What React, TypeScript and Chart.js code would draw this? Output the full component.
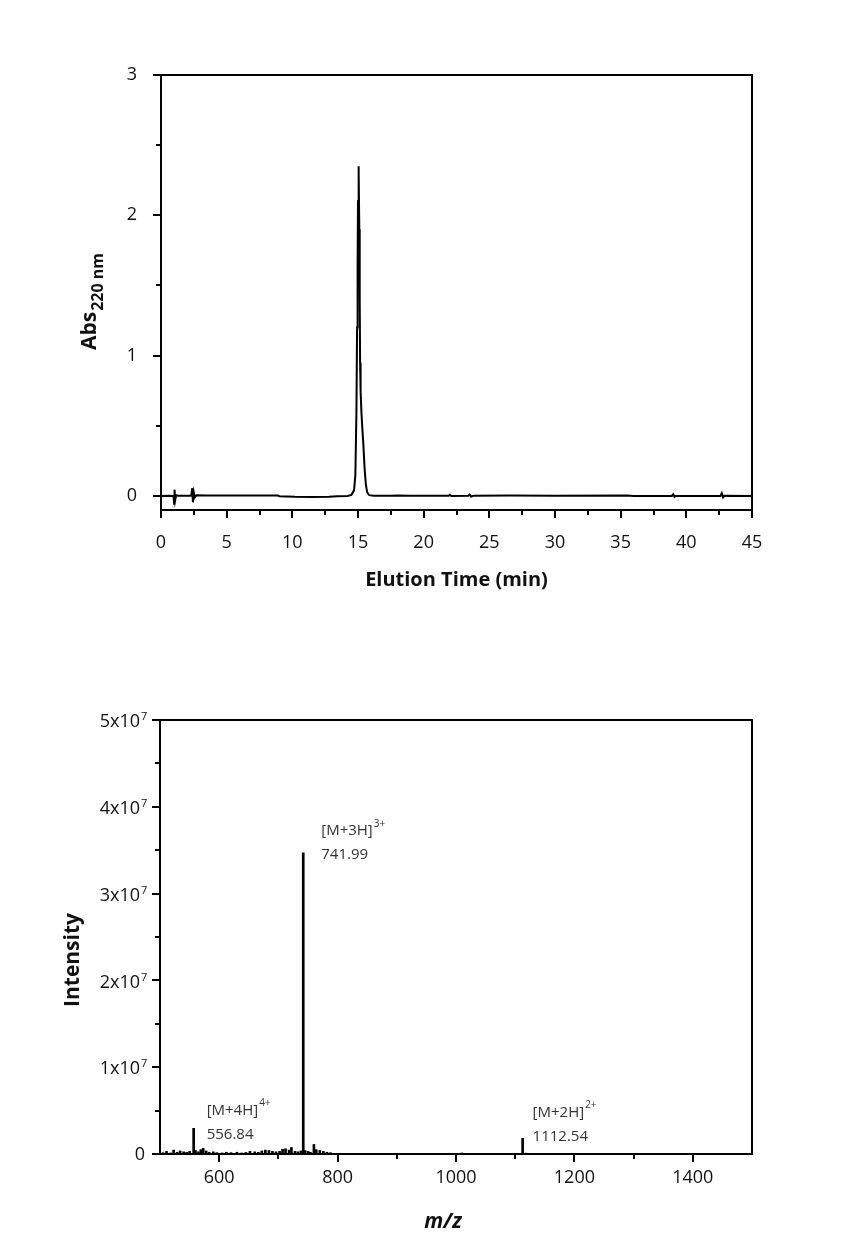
import React, { useEffect, useRef } from "react";
import { Chart, registerables } from "chart.js";

Chart.register(...registerables);

const FONT = '"Open Sans", "DejaVu Sans", sans-serif';
const INK = "#111";

// HPLC trace: elution time (min) and absorbance at 220 nm
const elutionTime = [
  0, 0.6, 0.95, 1.0, 1.03, 1.08, 1.15, 1.3, 2.3, 2.38, 2.43, 2.5, 2.58, 2.7, 3.5, 5.0, 7.0, 8.9, 9.0,
  10.2, 11.5, 12.8, 13.4, 14.2, 14.5, 14.7, 14.8, 14.88, 14.93, 14.97, 15.0, 15.03, 15.07, 15.1, 15.13,
  15.16, 15.2, 15.26, 15.33, 15.4, 15.5, 15.6, 15.7, 15.85, 16.2, 17.5, 18.0, 19.0, 21.9, 22.0, 22.1,
  23.4, 23.5, 23.6, 23.8, 26.5, 30.0, 35.5, 36.0, 38.9, 39.0, 39.1, 39.2, 42.6, 42.7, 42.8, 42.9, 45.0,
];
const absorbance = [
  0, 0.002, 0.0, -0.055, 0.045, -0.03, 0.005, 0.002, 0.003, 0.055, -0.045, 0.025, -0.01, 0.005, 0.004,
  0.003, 0.003, 0.003, -0.002, -0.006, -0.007, -0.006, -0.002, 0.0, 0.008, 0.04, 0.15, 0.6, 1.2, 1.64,
  2.1, 2.35, 2.3, 1.9, 1.4, 0.95, 0.74, 0.6, 0.48, 0.38, 0.2, 0.08, 0.025, 0.006, 0.002, 0.002, 0.004,
  0.002, 0.001, 0.008, 0.0, 0.002, 0.01, -0.004, 0.001, 0.003, 0.002, 0.003, 0.0, 0.0, 0.012, -0.006,
  0.0, 0.0, 0.02, -0.01, 0.002, 0.0,
];

const timeTicks = [0, 5, 10, 15, 20, 25, 30, 35, 40, 45];
const timeMinorTicks = [2.5, 7.5, 12.5, 17.5, 22.5, 27.5, 32.5, 37.5, 42.5];
const absTicks = [0, 1, 2, 3];
const absMinorTicks = [0.5, 1.5, 2.5];

// ESI-MS spectrum: m/z and intensity of each centroid
const mzValues = [
  505, 511, 518, 523, 529, 534, 540, 545, 550, 556.84, 560, 565, 569, 573, 578, 583, 590, 596, 605, 612,
  620, 630, 638, 645, 652, 660, 666, 672, 678, 684, 690, 696, 702, 707, 712, 718, 722, 728, 733, 738,
  741.99, 745, 750, 754, 760, 764, 770, 776, 782, 788, 800, 1010, 1112.54, 1118,
];
const intensities = [
  0.15e6, 0.3e6, 0.12e6, 0.45e6, 0.2e6, 0.35e6, 0.25e6, 0.18e6, 0.3e6, 2.96e6, 0.4e6, 0.25e6, 0.5e6,
  0.65e6, 0.35e6, 0.2e6, 0.25e6, 0.15e6, 0.12e6, 0.2e6, 0.15e6, 0.2e6, 0.12e6, 0.18e6, 0.3e6, 0.25e6,
  0.2e6, 0.35e6, 0.45e6, 0.4e6, 0.3e6, 0.25e6, 0.3e6, 0.55e6, 0.6e6, 0.45e6, 0.75e6, 0.3e6, 0.25e6,
  0.35e6, 3.47e7, 0.4e6, 0.3e6, 0.2e6, 1.1e6, 0.5e6, 0.4e6, 0.3e6, 0.2e6, 0.15e6, 0.08e6, 0.12e6,
  1.81e6, 0.1e6,
];

// Assigned ions
const ionNames = ["[M+4H]", "[M+3H]", "[M+2H]"];
const ionCharges = ["4+", "3+", "2+"];
const ionMz = [556.84, 741.99, 1112.54];
const ionIntensity = [2.96e6, 3.47e7, 1.81e6];

const mzTicks = [600, 800, 1000, 1200, 1400];
const mzMinorTicks = [700, 900, 1100, 1300];
const intensityTicks = [0, 1e7, 2e7, 3e7, 4e7, 5e7];
const intensityMinorTicks = [0.5e7, 1.5e7, 2.5e7, 3.5e7, 4.5e7];

// label placement relative to the top of each assigned peak (px)
const ionLabelDx = [13, 18, 10];
const ionNameDy = [-18, -22, -26];
const ionValueDy = [6, 2, -2];

const MAJOR_LEN = 8;
const MINOR_LEN = 5;

function framePlugin(xMajor: number[], xMinor: number[], yMajor: number[], yMinor: number[]) {
  return {
    id: "frameTicks",
    afterDatasetsDraw(chart: any) {
      const { ctx, chartArea: a, scales } = chart;
      ctx.save();
      ctx.strokeStyle = "#000";
      ctx.lineWidth = 2;
      ctx.strokeRect(a.left, a.top, a.right - a.left, a.bottom - a.top);
      ctx.beginPath();
      const xt = (v: number, len: number) => {
        const p = Math.round(scales.x.getPixelForValue(v));
        ctx.moveTo(p, a.bottom);
        ctx.lineTo(p, a.bottom + len);
      };
      const yt = (v: number, len: number) => {
        const p = Math.round(scales.y.getPixelForValue(v));
        ctx.moveTo(a.left, p);
        ctx.lineTo(a.left - len, p);
      };
      xMajor.forEach((v) => xt(v, MAJOR_LEN));
      xMinor.forEach((v) => xt(v, MINOR_LEN));
      yMajor.forEach((v) => yt(v, MAJOR_LEN));
      yMinor.forEach((v) => yt(v, MINOR_LEN));
      ctx.stroke();
      ctx.restore();
    },
  };
}

const tickFont = { family: FONT, size: 18 };

const hplcTitles = {
  id: "hplcTitles",
  afterDraw(chart: any) {
    const { ctx, chartArea: a } = chart;
    ctx.save();
    ctx.fillStyle = INK;
    ctx.textBaseline = "middle";
    ctx.textAlign = "center";
    ctx.font = `bold 20px ${FONT}`;
    ctx.fillText("Elution Time (min)", (a.left + a.right) / 2, 580);
    // rotated y title with subscript
    ctx.translate(90, 302);
    ctx.rotate(-Math.PI / 2);
    ctx.textAlign = "left";
    const main = "Abs";
    const sub = "220 nm";
    ctx.font = `bold 21px ${FONT}`;
    const wMain = ctx.measureText(main).width;
    ctx.font = `bold 16px ${FONT}`;
    const wSub = ctx.measureText(sub).width;
    const x0 = -(wMain + wSub) / 2;
    ctx.font = `bold 21px ${FONT}`;
    ctx.fillText(main, x0, 0);
    ctx.font = `bold 16px ${FONT}`;
    ctx.fillText(sub, x0 + wMain + 1, 8);
    ctx.restore();
  },
};

const msLabels = {
  id: "msLabels",
  afterDraw(chart: any) {
    const { ctx, chartArea: a, scales } = chart;
    ctx.save();
    ctx.fillStyle = INK;
    ctx.textBaseline = "middle";

    // intensity tick labels in N x 10^7 form
    intensityTicks.forEach((v) => {
      const py = scales.y.getPixelForValue(v);
      ctx.textAlign = "right";
      ctx.font = `18px ${FONT}`;
      if (v === 0) {
        ctx.fillText("0", a.left - 15, py + 1);
      } else {
        ctx.fillText(`${Math.round(v / 1e7)}x10`, a.left - 20, py + 2);
        ctx.textAlign = "left";
        ctx.font = `11px ${FONT}`;
        ctx.fillText("7", a.left - 19, py - 3);
      }
    });

    // ion annotations
    ionMz.forEach((mz, i) => {
      const px = scales.x.getPixelForValue(mz);
      const py = scales.y.getPixelForValue(ionIntensity[i]);
      const lx = px + ionLabelDx[i];
      ctx.fillStyle = "#333";
      ctx.textAlign = "left";
      ctx.font = `15px ${FONT}`;
      ctx.fillText(ionNames[i], lx, py + ionNameDy[i]);
      const w = ctx.measureText(ionNames[i]).width;
      ctx.font = `10px ${FONT}`;
      ctx.fillText(ionCharges[i], lx + w + 1, py + ionNameDy[i] - 7);
      ctx.font = `15px ${FONT}`;
      ctx.fillText(mz.toFixed(2), lx, py + ionValueDy[i]);
    });

    // axis titles
    ctx.fillStyle = INK;
    ctx.textAlign = "center";
    ctx.font = `italic bold 21px ${FONT}`;
    ctx.fillText("m/z", (a.left + a.right) / 2 - 13, 602);
    ctx.translate(73, 340);
    ctx.rotate(-Math.PI / 2);
    ctx.font = `bold 21px ${FONT}`;
    ctx.fillText("Intensity", 0, 0);
    ctx.restore();
  },
};

export default function App() {
  const topRef = useRef<HTMLCanvasElement>(null);
  const botRef = useRef<HTMLCanvasElement>(null);

  useEffect(() => {
    const hplc = new Chart(topRef.current as HTMLCanvasElement, {
      type: "line",
      data: {
        datasets: [
          {
            data: elutionTime.map((t, i) => ({ x: t, y: absorbance[i] })),
            borderColor: "#000",
            borderWidth: 2,
            pointRadius: 0,
            tension: 0,
            fill: false,
          },
        ],
      },
      options: {
        animation: false,
        responsive: false,
        events: [],
        layout: { padding: { left: 100, right: 107, top: 75, bottom: 0 } },
        plugins: { legend: { display: false }, tooltip: { enabled: false } },
        scales: {
          x: {
            type: "linear",
            min: 0,
            max: 45,
            grid: { display: false },
            border: { display: false },
            afterBuildTicks: (s: any) => {
              s.ticks = timeTicks.map((v) => ({ value: v }));
            },
            afterFit: (s: any) => {
              s.height = 110;
            },
            ticks: {
              padding: 14,
              maxRotation: 0,
              autoSkip: false,
              font: tickFont,
              color: INK,
              callback: (v: any) => String(v),
            },
          },
          y: {
            type: "linear",
            min: -0.1,
            max: 3,
            grid: { display: false },
            border: { display: false },
            afterBuildTicks: (s: any) => {
              s.ticks = absTicks.map((v) => ({ value: v }));
            },
            afterFit: (s: any) => {
              s.width = 61;
            },
            ticks: {
              padding: 16,
              autoSkip: false,
              font: tickFont,
              color: INK,
              callback: (v: any) => String(v),
            },
          },
        },
      } as any,
      plugins: [framePlugin(timeTicks, timeMinorTicks, absTicks, absMinorTicks), hplcTitles],
    });

    const ms = new Chart(botRef.current as HTMLCanvasElement, {
      type: "bar",
      data: {
        datasets: [
          {
            data: mzValues.map((m, i) => ({ x: m, y: intensities[i] })),
            backgroundColor: "#000",
            borderWidth: 0,
            barThickness: 2,
            grouped: false,
          } as any,
        ],
      },
      options: {
        animation: false,
        responsive: false,
        events: [],
        layout: { padding: { left: 100, right: 107, top: 100, bottom: 0 } },
        plugins: { legend: { display: false }, tooltip: { enabled: false } },
        scales: {
          x: {
            type: "linear",
            min: 500,
            max: 1500,
            offset: false,
            grid: { display: false, offset: false },
            border: { display: false },
            afterBuildTicks: (s: any) => {
              s.ticks = mzTicks.map((v) => ({ value: v }));
            },
            afterFit: (s: any) => {
              s.height = 92;
            },
            ticks: {
              padding: 5,
              maxRotation: 0,
              autoSkip: false,
              font: tickFont,
              color: INK,
              callback: (v: any) => String(v),
            },
          },
          y: {
            type: "linear",
            min: 0,
            max: 5e7,
            grid: { display: false },
            border: { display: false },
            afterBuildTicks: (s: any) => {
              s.ticks = intensityTicks.map((v) => ({ value: v }));
            },
            afterFit: (s: any) => {
              s.width = 60;
            },
            ticks: { display: false },
          },
        },
      } as any,
      plugins: [framePlugin(mzTicks, mzMinorTicks, intensityTicks, intensityMinorTicks), msLabels],
    });

    return () => {
      hplc.destroy();
      ms.destroy();
    };
  }, []);

  return (
    <div
      style={{
        position: "absolute",
        left: 0,
        top: 0,
        width: 859,
        height: 1246,
        background: "#fff",
      }}
    >
      <canvas
        ref={topRef}
        width={859}
        height={620}
        style={{ position: "absolute", left: 0, top: 0, display: "block" }}
      />
      <canvas
        ref={botRef}
        width={859}
        height={626}
        style={{ position: "absolute", left: 0, top: 620, display: "block" }}
      />
    </div>
  );
}
